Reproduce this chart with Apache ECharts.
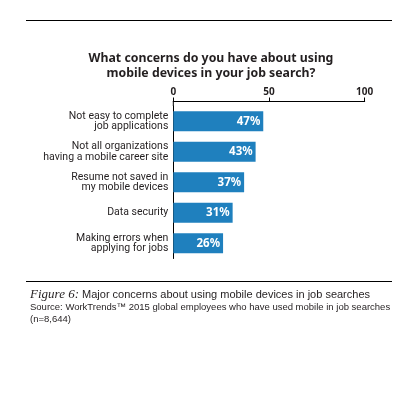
<!DOCTYPE html>
<html><head><meta charset="utf-8">
<script src="https://cdn.jsdelivr.net/npm/echarts@6/dist/echarts.min.js"></script>
<style>html,body{margin:0;padding:0;background:#fff}#c{width:420px;height:397px}</style>
</head><body><div id="c"></div>
<script>
var categories = ["Not easy to complete\njob applications", "Not all organizations\nhaving a mobile career site", "Resume not saved in\nmy mobile devices", "Data security", "Making errors when\napplying for jobs"];
var values = [47, 43, 37, 31, 26];
var tickValues = [0, 50, 100];

var chart = echarts.init(document.getElementById('c'), null, {renderer: 'canvas'});
var dark = '#231f20';
chart.setOption({
  animation: false,
  title: {
    text: 'What concerns do you have about using\nmobile devices in your job search?',
    left: 206, textAlign: 'center', top: 46,
    textStyle: {fontFamily: 'Noto Sans', fontSize: 12.3, fontWeight: 'bold', color: dark, lineHeight: 15}
  },
  grid: {left: 173.3, right: 55.3, top: 106, height: 152.5, containLabel: false},
  xAxis: {
    type: 'value', position: 'top', min: tickValues[0], max: tickValues[tickValues.length - 1], interval: 50, offset: 4.5,
    axisLine: {show: true, lineStyle: {color: '#000', width: 1}},
    axisTick: {show: true, length: 4, inside: false, lineStyle: {color: '#000'}},
    splitLine: {show: false},
    axisLabel: {margin: 4, fontFamily: 'Noto Sans', fontSize: 10, fontWeight: 'bold', color: dark}
  },
  yAxis: {
    type: 'category', inverse: true, data: categories,
    axisLine: {show: true, lineStyle: {color: '#000', width: 1}},
    axisTick: {show: false},
    axisLabel: {margin: 5, fontFamily: 'Roboto', fontSize: 10.5, color: dark, lineHeight: 10.5, align: 'right'}
  },
  series: [{
    type: 'bar', data: values, barWidth: 20,
    itemStyle: {color: '#1f80be'},
    label: {show: true, position: 'insideRight', offset: [2, 0], formatter: '{c}%', color: '#fff', fontFamily: 'Noto Sans', fontWeight: 'bold', fontSize: 11.5}
  }],
  graphic: [
    {type: 'line', shape: {x1: 26, y1: 20.5, x2: 392, y2: 20.5}, style: {stroke: '#000', lineWidth: 1}},
    {type: 'line', shape: {x1: 173.3, y1: 101, x2: 173.3, y2: 106}, style: {stroke: '#000', lineWidth: 1}},
    {type: 'line', shape: {x1: 26, y1: 281.5, x2: 392, y2: 281.5}, style: {stroke: '#000', lineWidth: 1}},
    {type: 'text', left: 30, top: 288, style: {
      text: '{i|Figure 6:}{n| Major concerns about using mobile devices in job searches}',
      rich: {
        i: {fontFamily: 'Liberation Serif', fontStyle: 'italic', fontSize: 13, fill: dark},
        n: {fontFamily: 'Liberation Sans', fontSize: 11, fill: dark}
      }
    }},
    {type: 'text', left: 30, top: 302, style: {
      text: 'Source: WorkTrends\u2122 2015 global employees who have used mobile in job searches\n(n=8,644)',
      fontFamily: 'Liberation Sans', fontSize: 9.5, lineHeight: 11.5, fill: dark
    }}
  ]
});
</script></body></html>
